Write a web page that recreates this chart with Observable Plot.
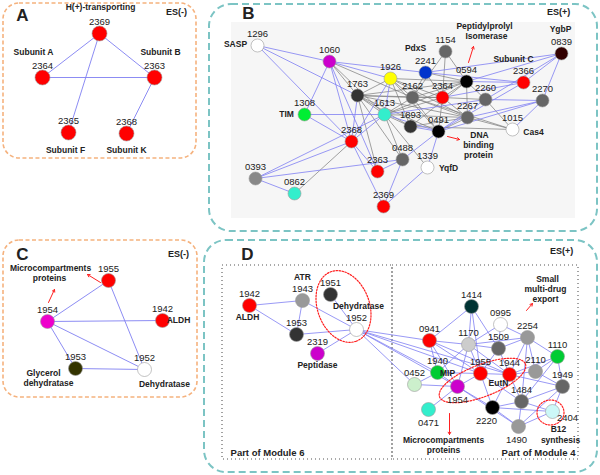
<!DOCTYPE html>
<html><head><meta charset="utf-8">
<script src="https://cdn.jsdelivr.net/npm/d3@7"></script>
<script src="https://cdn.jsdelivr.net/npm/@observablehq/plot@0.6"></script>
<style>body{margin:0;background:#fff} svg{display:block;font-family:"Liberation Sans",Arial,sans-serif}</style>
</head><body><div id="chart"></div>
<script>
// ---- nodes: [id, x, y, color, labelDx, labelDy]
const nodesA = [
  ["2369",99,33,"#ff0000"],["2364",42,77,"#ff0000"],["2363",154,77,"#ff0000"],
  ["2365",68,132,"#ff0000"],["2368",126,133,"#ff0000"]
];
const edgesA = ["2369-2364","2369-2363","2369-2365","2364-2363","2363-2368"];

const nodesB = [
  ["1296",257,45,"#ffffff"],["1060",329,61,"#cc00cc"],["1926",390,78,"#ffff00"],
  ["2241",425,72,"#0033cc"],["1154",445,51,"#666666"],["0594",466,81,"#000000"],
  ["2364",442,97,"#ff0000"],["2162",412,97,"#666666"],["1763",357,95,"#333333"],
  ["1613",384,114,"#33eecc"],["1308",304,114,"#00ee33"],["1893",410,126,"#333333"],
  ["0491",438,131,"#000000"],["2267",467,117,"#666666"],["2260",485,99,"#666666"],
  ["2366",523,82,"#ff0000"],["0839",561,53,"#330000"],["2270",542,100,"#666666"],
  ["1015",512,129,"#ffffff"],["2368",351,141,"#ff0000"],["0488",402,159,"#666666"],
  ["1339",427,167,"#ffffff"],["2363",377,171,"#ff0000"],["2369",383,206,"#ff0000"],
  ["0393",255,178,"#888888"],["0862",294,193,"#33eecc"]
];
const blueB = ["1296-1060","1296-1763","1296-2368","1060-1308","1060-2368","1060-1926","1060-2241","1060-2363",
  "1308-1613","1308-2368","1613-2368","1613-1926","0393-2368","0393-1613","0393-0862","0393-0488",
  "2368-2363","2368-2369","2368-1763","2368-1926","2369-0488","2369-1339","0488-0491","0488-2363","1339-0491",
  "2241-0839","2241-2366","0839-2366","0839-2270","0839-2260","0839-0594","2366-2364","2366-0594",
  "2270-1015","2270-2267","2270-0491","2260-2270","1893-0491","1613-0491","1613-2260","0491-2260","0491-2366"];
const grayB = ["1060-1763","1060-2162","1060-1613","1763-1926","1763-2162","1763-2364","1763-0594","1763-1893",
  "1763-0491","1763-2267","1763-1613","1763-0488","1763-2363","1926-2162","1926-2364","1926-0594","1926-1893",
  "1926-0491","1926-2267","2241-2162","2241-0594","2241-2364","1154-2364","1154-0594","1154-2162","2162-2364",
  "2162-1613","2162-0491","2162-2267","2162-1015","2162-0594","2364-0594","2364-1613","2364-0491","2364-2267",
  "2364-2260","1613-1893","1613-2267","1613-1339","1613-0594","1893-2267","1893-0594","0491-2267","2267-1015",
  "2260-1015","0594-2260","0594-2267","0862-2368","1893-1015","0488-1613"];

const nodesC = [
  ["1955",108,280,"#ff0000"],["1954",47,321,"#ee00cc"],["1942",162,320,"#ff0000"],
  ["1953",75,368,"#333300"],["1952",144,369,"#ffffff"]
];
const edgesC = ["1954-1955","1954-1942","1954-1953","1954-1952","1955-1952","1953-1952"];

const nodesD = [
  ["1942",249,305,"#ff0000"],["1943",302,300,"#999999"],["1951",330,294,"#333333"],
  ["1952",356,329,"#ffffff"],["1953",296,334,"#333333"],["2319",317,353,"#cc00cc"],
  ["1414",471,306,"#003333"],["0995",500,324,"#ffffff"],["2254",527,337,"#999999"],
  ["0941",429,340,"#ff0000"],["1170",468,344,"#cccccc"],["1509",498,348,"#666666"],
  ["1110",557,356,"#00cc33"],["1940",437,372,"#00cc33"],["1955",480,373,"#ff0000"],
  ["1944",509,374,"#ff0000"],["2110",535,371,"#999999"],["0452",414,384,"#ccf0cc"],
  ["1954",457,386,"#cc00cc",0,13],["1949",562,386,"#666666"],["1484",521,401,"#666666"],
  ["0471",428,409,"#33eecc",0,13],["2220",492,407,"#000000",-6,13],["2404",552,411,"#ccf8f8",15,6],
  ["1490",518,426,"#999999",-2,13]
];
const edgesD = ["1942-1943","1942-1953","1943-1953","1943-1952","1951-1952","1953-1952","2319-1952",
  "1952-0941","1952-1940","1952-1955","1952-1954","1952-1944","1952-0452",
  "1414-1170","1414-0941","1414-1509","1414-1955","0995-2254","0995-1170","0995-1509",
  "0941-1170","0941-1940","0941-1955","0941-1954","0941-1944","1170-1509","1170-1940","1170-1955","1170-1944",
  "1170-2254","1170-1954","1509-2254","1509-1944","1509-1955","2254-1110","2254-1944","2254-2110","2254-1484",
  "1110-2110","1110-1949","1110-1944","1110-1484","1940-0452","1940-1955","1940-1954","1955-1944","1955-1954",
  "1955-2220","1955-1484","1944-2110","1944-1484","1944-2220","1944-1949","2110-1949","0452-1954","1954-0471",
  "1954-2220","1954-1490","1949-2404","1949-1484","1949-1490","1484-2404","1484-1490","2220-1490","2220-2404",
  "1490-2404","2220-1484"];

// ---- text annotations: [text, x, y]
const letters = [["A",22,15],["B",248,13],["C",22,254],["D",247,254]];
const tags = [["ES(-)",176,12],["ES(+)",558,12],["ES(-)",178,254],["ES(+)",561,251]];
const names = [
  ["H(+)-transporting",100,7],["Subunit A",33,52],["Subunit B",160,52],["Subunit F",65,150],["Subunit K",126,150],
  ["SASP",235,44],["PdxS",415,48],["Subunit C",513,59],["YgbP",560,29],["TIM",286,114],["Cas4",533,132],["YqfD",448,168],
  ["Peptidylprolyl",484,26],["Isomerase",486,36],["DNA",479,135],["binding",478,145],["protein",478,155],
  ["Microcompartments",50,268],["proteins",49,278],["ALDH",178,320],["Glycerol",43,373],["dehydratase",48,383],["Dehydratase",164,384],
  ["ATR",302,277],["ALDH",247,317],["Dehydratase",358,306],["Peptidase",317,365],["MIP",447,373],["EutN",498,383],
  ["Small",547,279],["multi-drug",545,289],["export",545,299],["Microcompartments",443,440],["proteins",443,450],
  ["B12",558,429],["synthesis",560,440]
];
const modules = [["Part of Module 6",267,452],["Part of Module 4",538,452]];
const arrows = [[468,62,473,46],[447,136,459,139],[100,282,87,274],[48,302,54,289],[526,310,532,303],[449,413,449,434]];
const ellipses = [[343,306,37,26,70],[482,380,46,16,-21],[550,412,13.5,12.5,0]];

const framesOrange = [[3,3,196,158],[3,240,197,397]];
const framesTeal = [[209,4,597,231],[204,240,597,472]];
const boxesD = [[222,265,392,459],[392,265,578,459]];
const backB = [[231,22,575,218]];

// ---- helpers
function links(nodes, pairs) {
  const m = new Map(nodes.map(n => [n[0], n]));
  return pairs.map(p => { const [a,b] = p.split("-"); return {x1:m.get(a)[1],y1:m.get(a)[2],x2:m.get(b)[1],y2:m.get(b)[2]}; });
}
function ellipsePts(list) {
  const pts = [];
  list.forEach(([cx,cy,a,b,rot],k) => {
    const r = rot*Math.PI/180, ux = Math.cos(r), uy = Math.sin(r);
    for (let i=0;i<=72;i++){ const t=i/72*2*Math.PI;
      pts.push({k, x: cx + a*Math.cos(t)*ux - b*Math.sin(t)*uy, y: cy + a*Math.cos(t)*uy + b*Math.sin(t)*ux}); }
  });
  return pts;
}
const rectOpts = {x1:d=>d[0],y1:d=>d[1],x2:d=>d[2],y2:d=>d[3]};
const blue = "#7f7ff2";
const font = "Liberation Sans, Arial, sans-serif";
function dots(nodes, r){ return Plot.dot(nodes,{x:d=>d[1],y:d=>d[2],r,fill:d=>d[3],stroke:"#9a9a9a",strokeWidth:0.6}); }
function nums(nodes){ return Plot.text(nodes,{x:d=>d[1]+(d[4]??0),y:d=>d[2]+(d[5]??-12),text:d=>d[0],fontSize:9.5,fill:"#222",fontFamily:font}); }
function words(arr,size,weight="bold"){ return Plot.text(arr,{x:d=>d[1],y:d=>d[2],text:d=>d[0],fontSize:size,fontWeight:weight,fill:"#222",fontFamily:font}); }

const chart = Plot.plot({
  width:600, height:475, margin:0,
  x:{domain:[0,600],range:[0,600],axis:null},
  y:{domain:[0,475],range:[0,475],axis:null},
  color:{type:"identity"},
  style:{fontFamily:font, background:"#fff"},
  marks:[
    Plot.rect(backB,{...rectOpts,fill:"#f6f6f6"}),
    Plot.rect(framesOrange,{...rectOpts,fill:"none",stroke:"#f5b27e",strokeWidth:1.6,strokeDasharray:"4,2.5",rx:16}),
    Plot.rect(framesTeal,{...rectOpts,fill:"none",stroke:"#7cc4c4",strokeWidth:2,strokeDasharray:"7,4",rx:22}),
    Plot.rect(boxesD,{...rectOpts,fill:"none",stroke:"#555",strokeWidth:1.1,strokeDasharray:"1,3"}),
    Plot.link(links(nodesA,edgesA),{x1:"x1",y1:"y1",x2:"x2",y2:"y2",stroke:blue,strokeWidth:0.9}),
    Plot.link(links(nodesB,grayB),{x1:"x1",y1:"y1",x2:"x2",y2:"y2",stroke:"#7a7a7a",strokeWidth:0.7}),
    Plot.link(links(nodesB,blueB),{x1:"x1",y1:"y1",x2:"x2",y2:"y2",stroke:blue,strokeWidth:0.8}),
    Plot.link(links(nodesC,edgesC),{x1:"x1",y1:"y1",x2:"x2",y2:"y2",stroke:blue,strokeWidth:0.9}),
    Plot.link(links(nodesD,edgesD),{x1:"x1",y1:"y1",x2:"x2",y2:"y2",stroke:blue,strokeWidth:0.8}),
    dots(nodesA,7.5), dots(nodesB,6.5), dots(nodesC,7), dots(nodesD,7),
    Plot.line(ellipsePts(ellipses),{x:"x",y:"y",z:"k",stroke:"#ff2020",strokeWidth:1.2,strokeDasharray:"1.5,1.5"}),
    Plot.arrow(arrows,{x1:d=>d[0],y1:d=>d[1],x2:d=>d[2],y2:d=>d[3],stroke:"#ff2020",strokeWidth:1,headLength:4}),
    nums(nodesA), nums(nodesB), nums(nodesC), nums(nodesD),
    words(names,8.5), words(tags,9), words(modules,9.5), words(letters,17)
  ]
});
document.getElementById("chart").appendChild(chart);
</script></body></html>
